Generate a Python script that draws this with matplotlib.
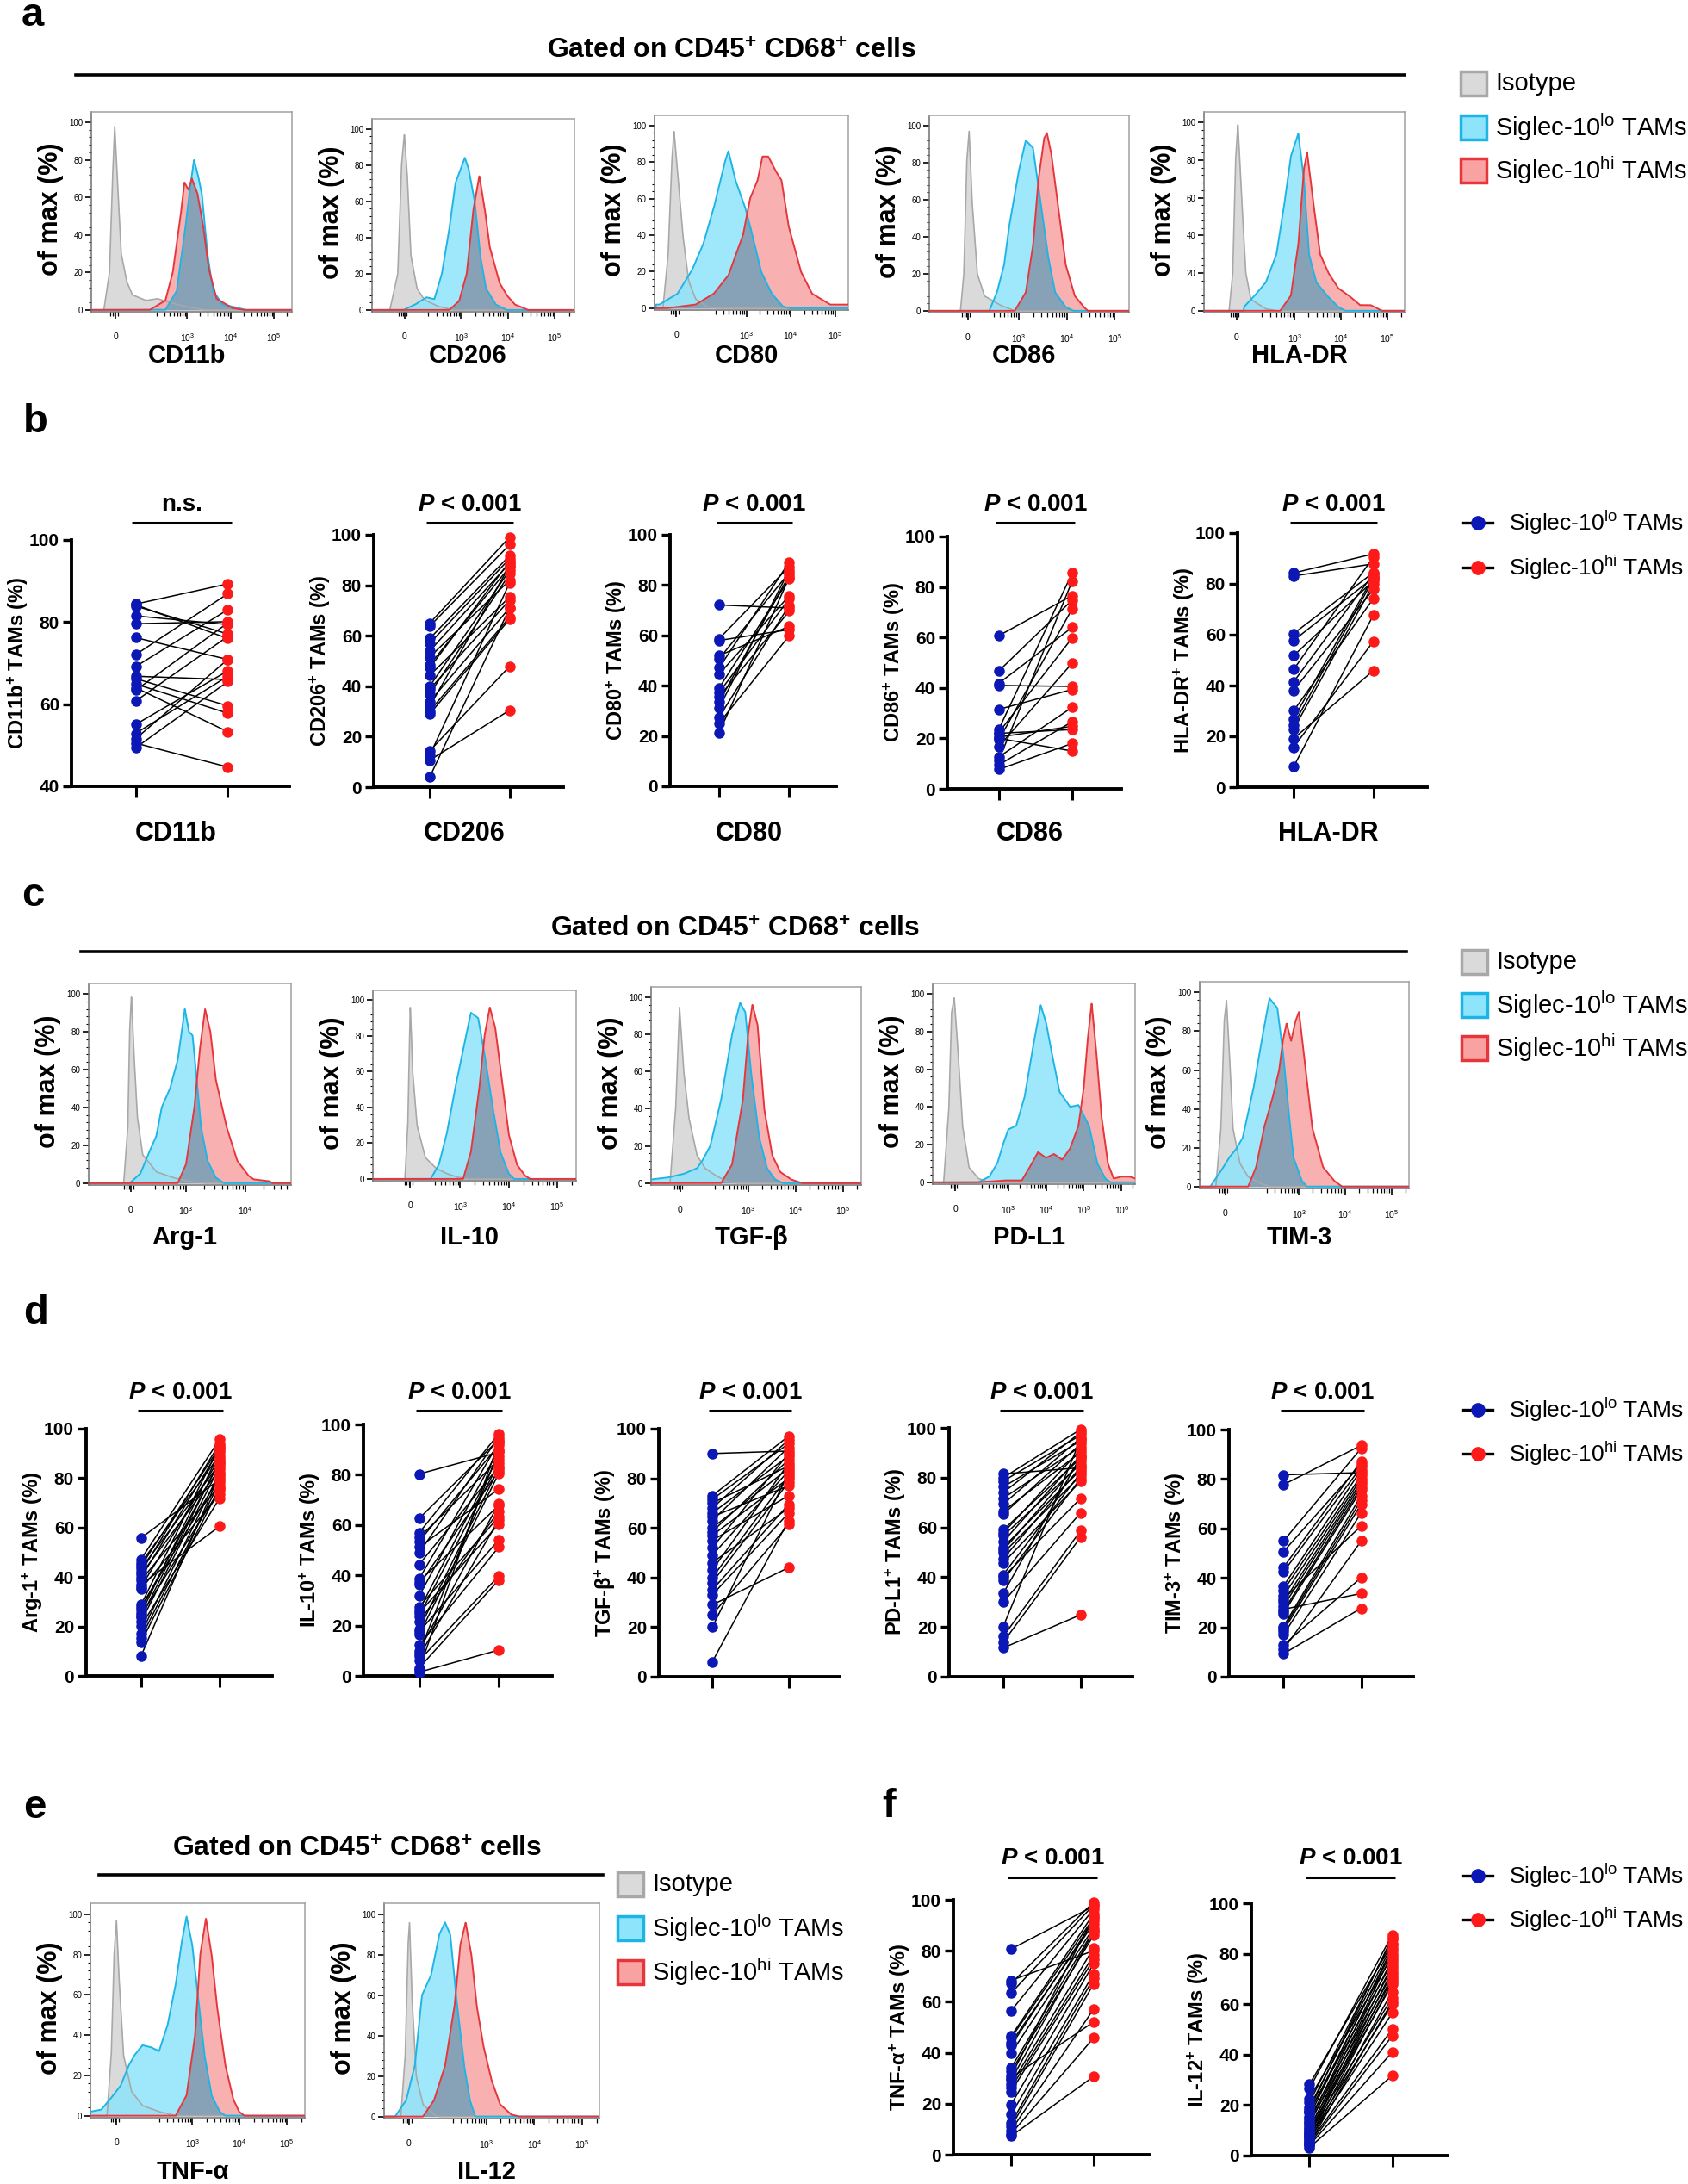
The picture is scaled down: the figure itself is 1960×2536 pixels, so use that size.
import numpy as np
import matplotlib.pyplot as plt
from matplotlib.patches import Rectangle
from matplotlib.lines import Line2D
from matplotlib import transforms

plt.rcParams['font.family'] = ['Liberation Sans', 'DejaVu Sans']
plt.rcParams['mathtext.fontset'] = 'custom'
plt.rcParams['mathtext.rm'] = 'Liberation Sans'
plt.rcParams['mathtext.it'] = 'Liberation Sans:italic:bold'
plt.rcParams['mathtext.bf'] = 'Liberation Sans:bold'

# ---------------- histogram data (x = log10 position on the flow axis, y = % of max)
cd11b_iso = [(1.08, 0), (1.21, 20), (1.28, 70), (1.33, 98), (1.39, 70), (1.48, 30), (1.61, 15), (1.74, 8), (2.05, 5), (2.32, 6), (2.58, 4), (2.94, 2), (3.38, 0)]
cd11b_lo = [(2.5, 0), (2.76, 10), (2.94, 40), (3.07, 65), (3.16, 80), (3.25, 72), (3.34, 62), (3.47, 30), (3.6, 10), (3.82, 3), (4.35, 0)]
cd11b_hi = [(2.14, 0), (2.5, 5), (2.67, 20), (2.85, 50), (2.94, 68), (3.03, 64), (3.11, 70), (3.24, 62), (3.37, 45), (3.5, 22), (3.68, 6), (4.04, 1), (4.3, 0)]

cd206_iso = [(1.48, 0), (1.65, 20), (1.73, 80), (1.79, 97), (1.85, 75), (1.93, 30), (2.06, 12), (2.18, 7), (2.26, 5), (2.51, 2), (2.84, 0)]
cd206_lo = [(1.77, 0), (2.02, 3), (2.26, 7), (2.43, 6), (2.59, 20), (2.75, 45), (2.88, 70), (3.08, 84), (3.16, 78), (3.29, 60), (3.41, 30), (3.53, 12), (3.74, 3), (3.98, 0)]
cd206_hi = [(2.75, 0), (2.96, 5), (3.12, 20), (3.26, 55), (3.39, 74), (3.51, 55), (3.61, 35), (3.82, 15), (3.98, 8), (4.15, 3), (4.43, 0)]

cd80_iso = [(1.11, 0), (1.23, 30), (1.31, 80), (1.36, 97), (1.44, 75), (1.56, 40), (1.69, 15), (1.85, 5), (2.1, 1), (2.34, 0)]
cd80_lo = [(0.95, 2), (1.03, 2), (1.44, 8), (1.77, 21), (2.02, 35), (2.26, 55), (2.51, 80), (2.59, 86), (2.75, 70), (2.97, 55), (3.08, 45), (3.33, 20), (3.57, 8), (3.82, 1), (3.98, 0)]
cd80_hi = [(1.2, 0), (1.85, 2), (2.26, 8), (2.59, 18), (2.92, 40), (3.08, 60), (3.25, 70), (3.36, 83), (3.49, 83), (3.66, 75), (3.79, 70), (3.95, 45), (4.23, 20), (4.48, 8), (4.89, 2), (5.3, 2)]

cd86_iso = [(1.79, 0), (1.86, 20), (1.92, 80), (1.97, 97), (2.03, 60), (2.14, 20), (2.29, 8), (2.62, 3), (2.92, 0)]
cd86_lo = [(2.39, 0), (2.55, 10), (2.7, 25), (2.8, 45), (3.0, 75), (3.15, 92), (3.3, 88), (3.45, 60), (3.61, 30), (3.76, 10), (3.98, 2), (4.14, 0)]
cd86_hi = [(2.92, 0), (3.15, 10), (3.3, 35), (3.41, 70), (3.53, 93), (3.59, 96), (3.68, 85), (3.83, 55), (3.98, 25), (4.17, 8), (4.36, 2), (4.44, 0)]

hladr_iso = [(1.59, 0), (1.67, 20), (1.73, 80), (1.78, 99), (1.86, 60), (1.95, 20), (2.06, 6), (2.38, 1), (2.61, 0)]
hladr_lo = [(1.91, 2), (2.14, 8), (2.38, 15), (2.61, 30), (2.77, 55), (2.92, 82), (3.08, 94), (3.2, 70), (3.31, 30), (3.47, 15), (3.7, 8), (3.94, 2), (4.09, 0)]
hladr_hi = [(2.69, 0), (2.92, 8), (3.08, 35), (3.2, 75), (3.27, 84), (3.39, 60), (3.55, 30), (3.73, 20), (3.94, 12), (4.17, 8), (4.41, 3), (4.64, 3), (4.8, 1), (4.88, 0)]

arg1_iso = [(1.95, 0), (2.02, 30), (2.05, 80), (2.08, 99), (2.12, 70), (2.18, 35), (2.27, 15), (2.5, 6), (2.77, 3), (3.05, 1), (3.32, 0)]
arg1_lo = [(2.05, 0), (2.23, 5), (2.36, 15), (2.5, 25), (2.59, 40), (2.73, 50), (2.86, 65), (2.98, 92), (3.05, 80), (3.11, 78), (3.18, 55), (3.25, 30), (3.36, 12), (3.5, 3), (3.64, 0)]
arg1_hi = [(2.86, 0), (3.0, 10), (3.14, 40), (3.23, 70), (3.32, 92), (3.41, 80), (3.5, 55), (3.68, 30), (3.86, 12), (4.05, 4), (4.14, 2), (4.41, 1), (4.45, 0)]

il10_iso = [(1.86, 0), (1.92, 30), (1.97, 97), (2.02, 60), (2.11, 30), (2.28, 12), (2.5, 6), (2.72, 3), (2.94, 1), (3.17, 0)]
il10_lo = [(2.39, 0), (2.56, 8), (2.72, 25), (2.89, 50), (3.08, 75), (3.22, 93), (3.37, 90), (3.5, 70), (3.67, 40), (3.83, 15), (4.0, 3), (4.11, 0)]
il10_hi = [(3.06, 0), (3.22, 15), (3.39, 50), (3.5, 80), (3.61, 96), (3.72, 85), (3.86, 55), (4.0, 25), (4.17, 8), (4.33, 2), (4.44, 0)]

tgfb_iso = [(1.35, 0), (1.47, 40), (1.55, 95), (1.64, 60), (1.75, 35), (1.92, 15), (2.09, 8), (2.32, 4), (2.55, 1), (2.77, 0)]
tgfb_lo = [(0.95, 2), (1.3, 3), (1.64, 5), (1.92, 8), (2.03, 12), (2.2, 20), (2.43, 45), (2.66, 80), (2.83, 97), (2.94, 92), (3.06, 60), (3.23, 25), (3.4, 8), (3.57, 2), (3.74, 0)]
tgfb_hi = [(2.43, 0), (2.66, 10), (2.89, 45), (3.0, 80), (3.09, 96), (3.2, 85), (3.34, 40), (3.51, 15), (3.68, 6), (3.91, 2), (4.14, 0)]

pdl1_iso = [(1.29, 0), (1.43, 40), (1.5, 90), (1.57, 98), (1.67, 70), (1.79, 30), (1.96, 8), (2.21, 2), (2.5, 0)]
pdl1_lo = [(2.21, 0), (2.5, 3), (2.71, 10), (2.86, 20), (3.0, 28), (3.21, 30), (3.43, 45), (3.64, 70), (3.86, 94), (4.0, 85), (4.14, 70), (4.36, 48), (4.64, 40), (4.86, 41), (5.14, 30), (5.36, 10), (5.57, 2), (5.71, 0)]
pdl1_hi = [(2.21, 0), (2.9, 1), (3.36, 1), (3.57, 8), (3.79, 16), (4.0, 13), (4.21, 15), (4.43, 12), (4.64, 18), (4.86, 30), (5.0, 50), (5.1, 75), (5.21, 95), (5.33, 70), (5.47, 35), (5.64, 10), (5.79, 2), (6.0, 3), (6.21, 3), (6.36, 2)]

tim3_iso = [(1.2, 0), (1.31, 30), (1.38, 85), (1.43, 96), (1.49, 70), (1.57, 30), (1.72, 12), (1.9, 5), (2.13, 2), (2.36, 0)]
tim3_lo = [(1.08, 0), (1.31, 8), (1.49, 15), (1.63, 19), (1.78, 25), (2.01, 50), (2.19, 75), (2.36, 97), (2.53, 92), (2.65, 70), (2.77, 40), (2.88, 15), (3.06, 3), (3.17, 0)]
tim3_hi = [(1.9, 0), (2.07, 10), (2.24, 30), (2.42, 45), (2.57, 60), (2.65, 75), (2.73, 84), (2.83, 75), (2.92, 85), (3.0, 90), (3.12, 65), (3.29, 30), (3.52, 10), (3.76, 3), (3.93, 0)]

tnfa_iso = [(1.2, 0), (1.29, 30), (1.35, 80), (1.4, 97), (1.45, 70), (1.55, 30), (1.72, 12), (1.95, 5), (2.3, 2), (2.65, 0)]
tnfa_lo = [(0.85, 2), (1.08, 3), (1.26, 8), (1.49, 15), (1.66, 25), (1.78, 30), (1.95, 35), (2.13, 34), (2.3, 32), (2.48, 45), (2.65, 65), (2.77, 85), (2.88, 99), (3.0, 85), (3.12, 60), (3.26, 30), (3.41, 10), (3.58, 2), (3.7, 0)]
tnfa_hi = [(2.65, 0), (2.88, 10), (3.06, 40), (3.17, 80), (3.29, 98), (3.41, 80), (3.52, 55), (3.7, 25), (3.87, 8), (3.99, 2), (4.1, 0)]

il12_iso = [(1.22, 0), (1.31, 30), (1.37, 85), (1.4, 96), (1.45, 60), (1.54, 20), (1.68, 6), (1.91, 1), (2.02, 0)]
il12_lo = [(1.1, 0), (1.33, 8), (1.51, 25), (1.66, 60), (1.85, 70), (2.02, 90), (2.14, 96), (2.25, 90), (2.37, 60), (2.54, 25), (2.66, 8), (2.77, 0)]
il12_hi = [(1.68, 0), (1.91, 8), (2.14, 25), (2.34, 55), (2.46, 85), (2.57, 96), (2.69, 80), (2.8, 55), (2.94, 35), (3.11, 18), (3.29, 6), (3.52, 1), (3.69, 0)]

# ---------------- paired data (% positive TAMs), index i = same patient
cd11b_plo = [84.4, 83.9, 84.2, 81.5, 79.6, 76.2, 72.1, 69.2, 66.8, 66.2, 64.9, 64.0, 63.4, 60.8, 55.1, 52.9, 51.6, 50.5, 49.4]
cd11b_phi = [89.3, 77.1, 76.0, 79.4, 80.1, 70.9, 86.9, 83.0, 66.0, 59.6, 57.8, 53.3, 79.8, 76.5, 68.1, 66.8, 70.9, 44.7, 65.5]
cd206_plo = [65.0, 63.8, 58.9, 57.0, 54.0, 51.6, 48.5, 47.3, 44.3, 40.0, 38.8, 37.0, 33.9, 32.0, 30.2, 29.0, 14.4, 12.6, 10.7, 4.0]
cd206_phi = [99.1, 96.1, 91.8, 90.6, 88.8, 82.0, 87.3, 89.5, 75.4, 86.0, 74.2, 84.5, 71.1, 87.8, 67.4, 66.6, 47.9, 81.0, 30.5, 71.0]
cd80_plo = [72.1, 58.7, 58.0, 52.0, 50.7, 47.1, 44.6, 39.1, 37.3, 35.5, 33.6, 31.2, 27.5, 25.1, 21.4]
cd80_phi = [70.9, 87.4, 62.3, 63.6, 85.0, 89.2, 75.8, 82.5, 74.6, 69.7, 84.0, 86.0, 72.0, 59.9, 83.0]
cd86_plo = [60.7, 46.7, 41.8, 41.0, 31.5, 23.5, 22.3, 20.5, 20.0, 19.3, 16.8, 12.6, 11.3, 9.5, 7.7, 22.0]
cd86_phi = [76.6, 74.8, 64.0, 40.6, 39.4, 85.5, 59.8, 24.8, 15.0, 71.3, 49.8, 32.3, 82.3, 26.6, 18.0, 23.5]
hladr_plo = [84.3, 83.1, 60.4, 57.7, 51.7, 46.3, 41.4, 38.0, 30.0, 26.9, 24.5, 22.7, 19.1, 15.7, 8.0]
hladr_phi = [91.8, 87.9, 84.5, 82.5, 81.3, 90.6, 84.0, 77.9, 74.3, 83.0, 82.0, 80.0, 45.9, 57.4, 67.8]

arg1_plo = [55.8, 47.2, 45.7, 44.5, 43.4, 42.0, 41.0, 39.8, 38.7, 37.0, 36.0, 35.2, 28.8, 28.0, 27.0, 25.3, 24.5, 23.6, 21.9, 20.1, 17.2, 15.5, 13.7, 8.1]
arg1_phi = [79.5, 95.7, 89.3, 92.5, 85.8, 94.0, 83.5, 91.6, 77.0, 60.5, 88.0, 73.5, 93.0, 80.6, 86.5, 90.5, 75.3, 87.0, 84.7, 71.9, 82.3, 78.3, 76.0, 81.5]
il10_plo = [80.3, 62.6, 56.9, 55.0, 53.5, 51.2, 48.9, 44.3, 38.6, 37.5, 36.3, 31.8, 27.5, 26.1, 25.0, 23.8, 21.5, 18.6, 17.5, 16.3, 12.3, 10.1, 7.8, 6.1, 3.2, 1.5, 2.5, 9.0]
il10_phi = [88.9, 94.0, 96.3, 86.0, 91.7, 74.3, 95.0, 83.2, 92.8, 67.8, 81.5, 90.0, 63.2, 87.5, 60.3, 84.5, 65.5, 82.5, 54.1, 80.5, 51.2, 68.5, 62.0, 39.7, 38.1, 10.3, 93.0, 89.5]
tgfb_plo = [90.0, 73.0, 71.5, 70.0, 68.0, 66.0, 64.5, 63.0, 60.0, 58.5, 57.0, 55.0, 52.0, 49.0, 46.0, 43.0, 40.0, 38.0, 35.0, 33.0, 29.0, 25.0, 20.0, 6.0]
tgfb_phi = [91.0, 97.0, 94.0, 85.0, 95.5, 89.0, 77.0, 92.5, 84.0, 87.5, 80.0, 73.0, 90.0, 83.0, 68.0, 86.0, 81.0, 78.5, 69.5, 66.0, 44.0, 61.3, 82.0, 63.0]
pdl1_plo = [81.5, 80.0, 78.6, 76.3, 74.0, 71.7, 69.4, 66.5, 65.3, 59.0, 57.8, 56.6, 54.3, 52.0, 50.8, 49.7, 47.4, 45.7, 41.0, 40.0, 38.7, 33.5, 30.0, 20.2, 16.2, 13.9, 11.6]
pdl1_phi = [84.0, 99.4, 97.1, 94.8, 98.2, 92.5, 96.0, 90.2, 93.6, 87.9, 91.3, 85.5, 89.0, 83.2, 86.7, 80.9, 84.3, 78.6, 82.0, 71.7, 79.7, 88.5, 65.9, 95.5, 58.7, 56.1, 24.9]
tim3_plo = [81.7, 77.7, 54.9, 50.6, 44.2, 42.4, 36.6, 34.9, 32.6, 31.5, 30.2, 28.5, 27.3, 26.5, 25.6, 20.3, 19.5, 18.6, 16.9, 12.8, 11.0, 9.3]
tim3_phi = [82.6, 93.6, 92.4, 86.0, 87.2, 84.9, 83.7, 81.4, 80.2, 61.0, 79.0, 77.9, 33.7, 76.7, 75.6, 73.3, 71.5, 69.8, 66.3, 40.1, 54.9, 27.7]

tnfa_plo = [80.7, 68.4, 67.2, 63.4, 56.5, 46.5, 45.8, 43.9, 42.8, 39.8, 34.1, 32.7, 31.0, 30.2, 29.3, 27.6, 26.2, 24.8, 19.7, 15.8, 12.4, 11.0, 9.6, 8.2, 7.3]
tnfa_phi = [97.5, 80.0, 99.1, 98.0, 96.3, 94.5, 92.9, 90.7, 91.8, 89.0, 88.0, 86.1, 93.5, 52.1, 87.5, 81.1, 78.3, 76.6, 74.9, 71.0, 69.3, 67.0, 57.1, 45.8, 30.7]
il12_plo = [28.2, 26.5, 22.6, 21.0, 19.1, 18.0, 17.5, 16.9, 15.5, 14.6, 13.5, 13.0, 12.3, 11.2, 10.5, 10.0, 9.0, 8.8, 8.3, 7.5, 7.0, 6.6, 5.8, 5.2, 4.9, 4.5, 4.0, 3.2]
il12_phi = [84.0, 87.5, 79.0, 85.8, 83.5, 86.5, 76.7, 81.2, 82.3, 74.4, 80.0, 72.1, 77.8, 69.8, 75.5, 67.9, 73.2, 62.6, 71.0, 59.9, 68.8, 56.5, 65.0, 50.1, 61.0, 47.4, 41.0, 31.7]

LEGEND_HIST = ['Isotype', r'Siglec-10$^{\mathrm{lo}}$ TAMs', r'Siglec-10$^{\mathrm{hi}}$ TAMs']
LEGEND_PAIR = [r'Siglec-10$^{\mathrm{lo}}$ TAMs', r'Siglec-10$^{\mathrm{hi}}$ TAMs']
GATE_TEXT = r'Gated on CD45$^{\mathbf{+}}$ CD68$^{\mathbf{+}}$ cells'

ISO_FILL, ISO_EDGE = '#dadada', '#a8a8a8'
LO_FILL, LO_EDGE = '#8ee4fb', '#1db5e6'
HI_FILL, HI_EDGE = '#f9a2a2', '#e6363b'
MIX_FILL = '#87a2b6'
BLUE, RED = '#0c18b6', '#ff1a1a'

W, H = 1960, 2536
fig = plt.figure(figsize=(W / 100, H / 100), dpi=100)


def px_ax(x0, y0, x1, y1):
    return fig.add_axes([x0 / W, 1 - y1 / H, (x1 - x0) / W, (y1 - y0) / H])


def ftext(x, y, s, **kw):
    return fig.text(x / W, 1 - y / H, s, **kw)


def hist_panel(box, iso, lo, hi, zero, xlim, decades, name, name_y):
    ax = px_ax(*box)
    xs = np.linspace(xlim[0], xlim[1], 1500)
    ys = []
    for pts in (iso, lo, hi):
        px, py = np.array(pts, dtype=float).T
        ys.append(np.interp(xs, px, py, left=0, right=0))
    y_iso, y_lo, y_hi = ys
    ax.fill_between(xs, y_iso, color=ISO_FILL, lw=0, zorder=1)
    ax.fill_between(xs, y_lo, color=LO_FILL, alpha=0.85, lw=0, zorder=2)
    ax.fill_between(xs, y_hi, color=HI_FILL, alpha=0.85, lw=0, zorder=3)
    ax.fill_between(xs, np.minimum(y_lo, y_hi), color=MIX_FILL, lw=0, zorder=4)
    ax.plot(xs, y_iso, color=ISO_EDGE, lw=1.2, zorder=5)
    ax.plot(xs, y_lo, color=LO_EDGE, lw=1.4, zorder=6)
    ax.plot(xs, y_hi, color=HI_EDGE, lw=1.4, zorder=6)
    ax.set_xlim(xlim)
    ax.set_ylim(-1, 105.5)

    ax.set_xticks([zero] + decades)
    ax.set_xticklabels(['0'] + [r'$10^{%d}$' % d for d in decades], fontsize=7.5)
    minor = [d + np.log10(k) for d in range(2, max(decades) + 1) for k in range(2, 10)]
    minor = [m for m in minor if zero + 0.4 < m < xlim[1]]
    minor += [zero - 0.12, zero - 0.07, zero - 0.03, zero + 0.05]
    ax.set_xticks(minor, minor=True)
    ax.set_yticks(range(0, 101, 20))
    ax.set_yticklabels([str(v) for v in range(0, 101, 20)], fontsize=7)
    ax.set_yticks(range(0, 101, 4), minor=True)
    ax.tick_params(axis='x', which='major', length=6, width=1.2, pad=11)
    ax.tick_params(axis='x', which='minor', length=3.5, width=0.9)
    ax.tick_params(axis='y', which='major', length=5, width=1.2, pad=2)
    ax.tick_params(axis='y', which='minor', length=2.5, width=0.8)
    for s in ax.spines.values():
        s.set_color('#a0a0a0')
        s.set_linewidth(1.1)
    ax.spines['bottom'].set_color('#707070')
    ax.spines['left'].set_color('#707070')

    x0, y0, x1, y1 = box
    ftext(x0 - 47, (y0 + y1) / 2 - 3, 'of max (%)', rotation=90, ha='center', va='center',
          fontsize=22, fontweight='bold')
    ftext((x0 + x1) / 2 - 6, name_y, name, ha='center', va='center', fontsize=21, fontweight='bold')
    return ax


def paired_panel(box, lo, hi, ymin, ylabel, ptext, ptext_y, bar_y, name=None, name_y=None):
    x0, y0, x1, y1 = box
    ax = px_ax(x0, y0, x1, y1)
    for a, b in zip(lo, hi):
        ax.plot([0, 1], [a, b], color='black', lw=1.1, zorder=2, clip_on=False)
    ax.plot(np.zeros(len(lo)), lo, 'o', color=BLUE, ms=8, mec=BLUE, zorder=3, clip_on=False)
    ax.plot(np.ones(len(hi)), hi, 'o', color=RED, ms=8, mec=RED, zorder=3, clip_on=False)
    ax.set_xlim(-0.7, 1.67)
    ax.set_ylim(ymin, 100)
    ax.spines[['top', 'right']].set_visible(False)
    ax.spines[['left', 'bottom']].set_linewidth(2.8)
    ax.set_xticks([0, 1])
    ax.set_xticklabels([])
    ax.set_yticks(range(ymin, 101, 20))
    ax.tick_params(axis='x', length=9, width=2.2)
    ax.tick_params(axis='y', length=7, width=2.4, labelsize=15, pad=3)
    for t in ax.get_yticklabels():
        t.set_fontweight('bold')
    ftext(x0 - 62, (y0 + y1) / 2, ylabel, rotation=90, ha='center', va='center',
          fontsize=17, fontweight='bold')
    trans = transforms.blended_transform_factory(ax.transData, fig.transFigure)
    ax.plot([-0.04, 1.04], [1 - bar_y / H] * 2, transform=trans, color='black', lw=2.2,
            clip_on=False, solid_capstyle='butt')
    ax.text(0.5, 1 - ptext_y / H, ptext, transform=trans, ha='center', va='center',
            fontsize=20, fontweight='bold')
    if name:
        ftext((x0 + x1) / 2 - 5, name_y, name, ha='center', va='center', fontsize=22, fontweight='bold')
    return ax


def hist_legend(x, ys, text_x):
    for y, fc, ec, lab in zip(ys, [ISO_FILL, LO_FILL, HI_FILL], [ISO_EDGE, LO_EDGE, HI_EDGE], LEGEND_HIST):
        fig.add_artist(Rectangle((x / W, 1 - (y + 14) / H), 30 / W, 28 / H, transform=fig.transFigure,
                                 facecolor=fc, edgecolor=ec, lw=2.5))
        ftext(text_x, y, lab, ha='left', va='center', fontsize=21)


def pair_legend(ys):
    for y, col, lab in zip(ys, [BLUE, RED], LEGEND_PAIR):
        fig.add_artist(Line2D([1699 / W, 1733 / W], [1 - y / H] * 2, transform=fig.transFigure,
                              color='black', lw=2.4))
        fig.add_artist(Line2D([1716 / W], [1 - y / H], transform=fig.transFigure, marker='o',
                              ms=11, color=col, lw=0))
        ftext(1752, y, lab, ha='left', va='center', fontsize=19)


def gate_header(cx, ty, lx0, lx1, ly):
    ftext(cx, ty, GATE_TEXT, ha='center', va='center', fontsize=23, fontweight='bold')
    fig.add_artist(Line2D([lx0 / W, lx1 / W], [1 - ly / H] * 2, transform=fig.transFigure,
                          color='black', lw=2.6))


P_TXT = r'$P$ < 0.001'

# panel letters
for letter, (lx, ly) in {'a': (25, 30), 'b': (27, 502), 'c': (25, 1052), 'd': (27, 1537),
                         'e': (27, 2111), 'f': (1024, 2110)}.items():
    ftext(lx, ly, letter, ha='left', va='baseline', fontsize=34, fontweight='bold')

# ---------------- a
gate_header(850, 60, 88, 1631, 87)
hist_panel((106, 130, 339, 362), cd11b_iso, cd11b_lo, cd11b_hi, 1.35, (0.79, 5.42), [3, 4, 5], 'CD11b', 413)
hist_panel((432, 138, 667, 362), cd206_iso, cd206_lo, cd206_hi, 1.79, (1.10, 5.42), [3, 4, 5], 'CD206', 413)
hist_panel((760, 134, 985, 360), cd80_iso, cd80_lo, cd80_hi, 1.41, (0.92, 5.3), [3, 4, 5], 'CD80', 413)
hist_panel((1079, 134, 1311, 363), cd86_iso, cd86_lo, cd86_hi, 1.94, (1.14, 5.3), [3, 4, 5], 'CD86', 413)
hist_panel((1398, 130, 1631, 363), hladr_iso, hladr_lo, hladr_hi, 1.75, (1.05, 5.37), [3, 4, 5], 'HLA-DR', 413)
hist_legend(1696, [97, 148, 198], 1736)

# ---------------- b
paired_panel((83, 627, 336, 913), cd11b_plo, cd11b_phi, 40, r'CD11b$^{\mathbf{+}}$ TAMs (%)', 'n.s.', 586, 607, 'CD11b', 968)
paired_panel((434, 621, 654, 914), cd206_plo, cd206_phi, 0, r'CD206$^{\mathbf{+}}$ TAMs (%)', P_TXT, 586, 607, 'CD206', 968)
paired_panel((778, 621, 971, 913), cd80_plo, cd80_phi, 0, r'CD80$^{\mathbf{+}}$ TAMs (%)', P_TXT, 586, 607, 'CD80', 968)
paired_panel((1100, 623, 1302, 916), cd86_plo, cd86_phi, 0, r'CD86$^{\mathbf{+}}$ TAMs (%)', P_TXT, 586, 607, 'CD86', 968)
paired_panel((1437, 619, 1657, 914), hladr_plo, hladr_phi, 0, r'HLA-DR$^{\mathbf{+}}$ TAMs (%)', P_TXT, 586, 607, 'HLA-DR', 968)
pair_legend([607, 659])

# ---------------- c
gate_header(854, 1080, 94, 1633, 1105)
hist_panel((103, 1142, 338, 1376), arg1_iso, arg1_lo, arg1_hi, 2.07, (1.36, 4.77), [3, 4], 'Arg-1', 1437)
hist_panel((433, 1150, 669, 1371), il10_iso, il10_lo, il10_hi, 1.97, (1.2, 5.39), [3, 4, 5], 'IL-10', 1437)
hist_panel((756, 1146, 1000, 1376), tgfb_iso, tgfb_lo, tgfb_hi, 1.56, (0.95, 5.39), [3, 4, 5], 'TGF-β', 1437)
hist_panel((1083, 1142, 1318, 1375), pdl1_iso, pdl1_lo, pdl1_hi, 1.6, (1.0, 6.36), [3, 4, 5, 6], 'PD-L1', 1437)
hist_panel((1393, 1140, 1636, 1380), tim3_iso, tim3_lo, tim3_hi, 1.4, (0.85, 5.38), [3, 4, 5], 'TIM-3', 1437)
hist_legend(1697, [1117, 1167, 1217], 1737)

# ---------------- d
paired_panel((100, 1659, 316, 1946), arg1_plo, arg1_phi, 0, r'Arg-1$^{\mathbf{+}}$ TAMs (%)', P_TXT, 1617, 1638)
paired_panel((422, 1654, 641, 1946), il10_plo, il10_phi, 0, r'IL-10$^{\mathbf{+}}$ TAMs (%)', P_TXT, 1617, 1638)
paired_panel((765, 1659, 975, 1947), tgfb_plo, tgfb_phi, 0, r'TGF-β$^{\mathbf{+}}$ TAMs (%)', P_TXT, 1617, 1638)
paired_panel((1102, 1658, 1315, 1947), pdl1_plo, pdl1_phi, 0, r'PD-L1$^{\mathbf{+}}$ TAMs (%)', P_TXT, 1617, 1638)
paired_panel((1427, 1660, 1641, 1947), tim3_plo, tim3_phi, 0, r'TIM-3$^{\mathbf{+}}$ TAMs (%)', P_TXT, 1617, 1638)
pair_legend([1637, 1688])

# ---------------- e
gate_header(415, 2148, 115, 700, 2177)
hist_panel((105, 2210, 354, 2459), tnfa_iso, tnfa_lo, tnfa_hi, 1.4, (0.85, 5.38), [3, 4, 5], 'TNF-α', 2522)
hist_panel((446, 2210, 696, 2460), il12_iso, il12_lo, il12_hi, 1.39, (0.87, 5.36), [3, 4, 5], 'IL-12', 2522)
hist_legend(717, [2188, 2239, 2290], 757)

# ---------------- f
paired_panel((1107, 2206, 1334, 2502), tnfa_plo, tnfa_phi, 0, r'TNF-α$^{\mathbf{+}}$ TAMs (%)', P_TXT, 2158, 2180)
paired_panel((1453, 2210, 1681, 2503), il12_plo, il12_phi, 0, r'IL-12$^{\mathbf{+}}$ TAMs (%)', P_TXT, 2158, 2180)
pair_legend([2178, 2229])

fig.savefig('out.png', dpi=100)
